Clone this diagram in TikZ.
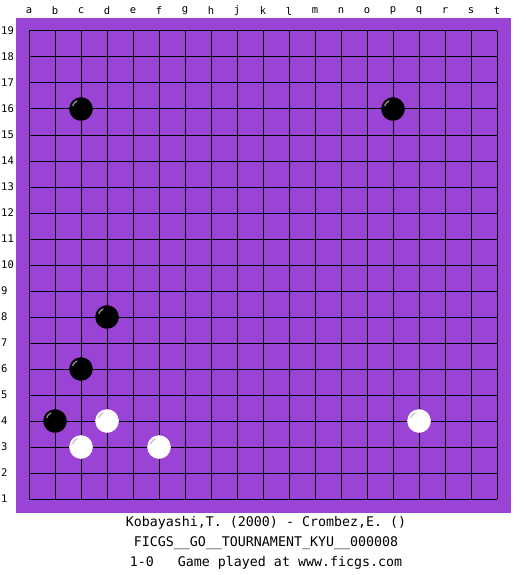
\documentclass[tikz,border=0pt]{standalone}
\usepackage{fontspec}
\newfontfamily\monofam{DejaVu Sans Mono}
\definecolor{boardcol}{RGB}{153,68,212}
\begin{document}
\begin{tikzpicture}[x=1pt,y=-1pt,
  gridline/.style={black,line width=1pt},
  lbl/.style={font=\monofam\fontsize{10.5}{10.5}\selectfont,inner sep=0pt},
  info/.style={font=\monofam\fontsize{13.3}{13.3}\selectfont,inner sep=0pt},
  blackstone/.style={circle,fill=black,draw=black,line width=0.5pt,minimum size=23pt,inner sep=0pt},
  whitestone/.style={circle,fill=white,draw=white,line width=0.5pt,minimum size=23pt,inner sep=0pt},
  hlblack/.style={gray!80,line width=1.2pt},
  hlwhite/.style={gray!50,line width=1.2pt}]
\useasboundingbox (0,0) rectangle (525,575);
\fill[white] (0,0) rectangle (525,575);
\fill[boardcol] (16,18) rectangle (511,513);
\foreach \i in {0,...,18} {
  \draw[gridline] (29+26*\i,31) -- (29+26*\i,499);
  \draw[gridline] (29,31+26*\i) -- (497,31+26*\i);
}
\foreach \l [count=\i from 0] in {a,b,c,d,e,f,g,h,j,k,l,m,n,o,p,q,r,s,t}
  \node[lbl] (col\l) at (29+26*\i,11) {\l};
\foreach \r in {1,...,19}
  \node[lbl,anchor=west] (row\r) at (1,31+26*19-26*\r) {\r};
% black stones
\foreach \n/\c/\r in {c16/2/16,p16/14/16,d8/3/8,c6/2/6,b4/1/4} {
  \node[blackstone] (\n) at (29+26*\c,31+26*19-26*\r) {};
  \draw[hlblack] (\n.center) ++(200:9) arc[start angle=200,end angle=245,radius=9];
}
% white stones
\foreach \n/\c/\r in {d4/3/4,c3/2/3,f3/5/3,q4/15/4} {
  \node[whitestone] (\n) at (29+26*\c,31+26*19-26*\r) {};
  \draw[hlwhite] (\n.center) ++(200:9) arc[start angle=200,end angle=245,radius=9];
}
\node[info] (line1) at (266,523) {Kobayashi,T. (2000) - Crombez,E. ()};
\node[info] (line2) at (266,543) {FICGS\_\_GO\_\_TOURNAMENT\_KYU\_\_000008};
\node[info] (line3) at (266,563) {1-0\ \ \ Game played at www.ficgs.com};
\end{tikzpicture}
\end{document}
